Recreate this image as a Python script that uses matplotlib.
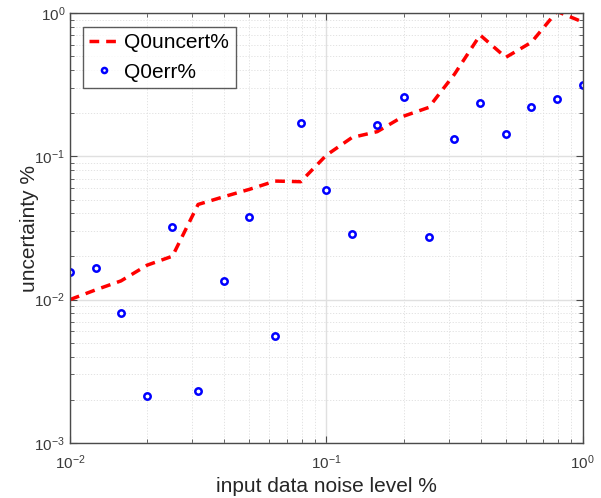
import numpy as np
import matplotlib
matplotlib.use("Agg")
import matplotlib.pyplot as plt
from matplotlib.ticker import LogLocator

# noise levels (10 per decade) and results
noise = [0.01, 0.0126, 0.0158, 0.02, 0.0251, 0.0316, 0.0398, 0.0501, 0.0631, 0.0794,
         0.1, 0.126, 0.158, 0.2, 0.251, 0.316, 0.398, 0.501, 0.631, 0.794, 1.0]
q0_uncert = [0.0100, 0.0117, 0.0135, 0.0174, 0.0201, 0.0462, 0.0523, 0.0589, 0.0673, 0.0666,
             0.1020, 0.1357, 0.1490, 0.1910, 0.2200, 0.3750, 0.7050, 0.4920, 0.6270, 1.0300, 0.8700]
q0_err = [0.01556, 0.01652, 0.00801, 0.00212, 0.0319, 0.00228, 0.01346, 0.0375, 0.00556, 0.170,
          0.0582, 0.0285, 0.1657, 0.261, 0.0275, 0.1316, 0.235, 0.1426, 0.2204, 0.252, 0.3155]

plt.rcParams['font.family'] = ['Liberation Sans', 'DejaVu Sans']

fig = plt.figure(figsize=(6.01, 4.98), dpi=100)
ax = fig.add_axes([0.1165, 0.111, 0.853, 0.8623])

ax.plot(noise, q0_uncert, '--', color='red', lw=2.5, dashes=(2.8, 2.0), label='Q0uncert%')
ax.plot(noise, q0_err, 'o', color='blue', mfc='white', mec='blue', mew=1.8, ms=4.6,
        linestyle='none', label='Q0err%')

ax.set_xscale('log')
ax.set_yscale('log')
ax.set_xlim(1e-2, 1e0)
ax.set_ylim(1e-3, 1e0)
ax.xaxis.set_major_locator(LogLocator(base=10, numticks=10))
ax.yaxis.set_major_locator(LogLocator(base=10, numticks=10))
ax.xaxis.set_minor_locator(LogLocator(base=10, subs=np.arange(2, 10), numticks=20))
ax.yaxis.set_minor_locator(LogLocator(base=10, subs=np.arange(2, 10), numticks=20))

ax.grid(True, which='major', color='#e0e0e0', lw=1.0, ls='-')
ax.grid(True, which='minor', color='#dedede', lw=0.6, ls=(0, (1.5, 2.0)))
ax.set_axisbelow(True)

for s in ax.spines.values():
    s.set_color('#4a4a4a')
    s.set_linewidth(1.0)
ax.tick_params(which='both', direction='in', top=True, right=True, colors='#4a4a4a',
               labelcolor='#3a3a3a', labelsize=11)
ax.tick_params(which='major', length=5)
ax.tick_params(which='minor', length=3)
ax.tick_params(axis='x', pad=8)

ax.set_xlabel('input data noise level %', fontsize=15, color='#262626', labelpad=3)
ax.set_ylabel('uncertainty %', fontsize=15, color='#262626', labelpad=-3)

leg = ax.legend(loc='upper left', bbox_to_anchor=(0.025, 0.968), borderaxespad=0,
                fontsize=15, frameon=True, fancybox=False, handlelength=1.4,
                handletextpad=0.3, borderpad=0.3, labelspacing=0.5, markerscale=0.8)
leg.get_frame().set_edgecolor('#333333')
leg.get_frame().set_linewidth(1.0)

fig.savefig('out.png', dpi=100)
